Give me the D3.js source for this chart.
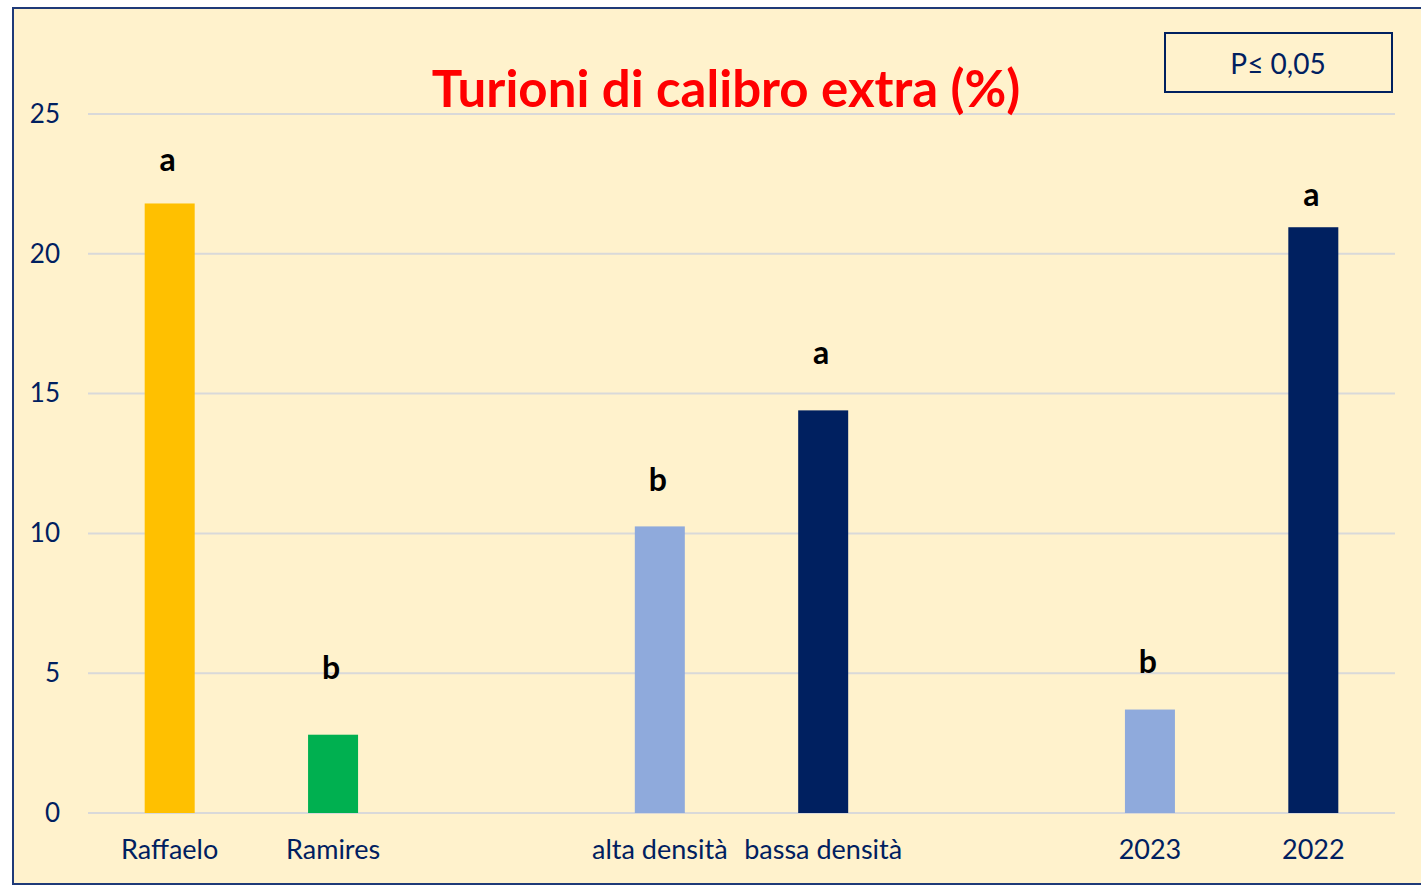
<!DOCTYPE html>
<html>
<head>
<meta charset="UTF-8">
<title>Turioni di calibro extra</title>
<style>
  body { margin: 0; background: #fff; }
  svg { display: block; font-family: Lato, "Open Sans", sans-serif; }
</style>
</head>
<body>
<svg width="1421" height="886"></svg>
<script src="https://cdn.jsdelivr.net/npm/d3@7"></script>
<script>
// data
const slots = ["Raffaelo", "Ramires", "gap1", "alta densità", "bassa densità", "gap2", "2023", "2022"];
const categories = ["Raffaelo", "Ramires", "alta densità", "bassa densità", "2023", "2022"];
const values = [21.8, 2.8, 10.25, 14.4, 3.7, 20.95];
const letters = ["a", "b", "b", "a", "b", "a"];
const letterLevel = [23.35, 5.2, 11.9, 16.45, 5.4, 22.1];
const colors = ["#FFC000", "#00B050", "#8FAADC", "#002060", "#8FAADC", "#002060"];
const yTicks = [0, 5, 10, 15, 20, 25];

const navy = "#002060";
const svg = d3.select("svg");

// frame
svg.append("rect")
    .attr("x", 13).attr("y", 8)
    .attr("width", 1420).attr("height", 876)
    .attr("fill", "#FFF2CC")
    .attr("stroke", "#1F3A78").attr("stroke-width", 2);

const plotLeft = 88, plotRight = 1395, plotTop = 114, plotBottom = 813;

const x = d3.scaleBand().domain(slots).range([plotLeft, plotRight]).paddingInner(0).paddingOuter(0);
const y = d3.scaleLinear().domain([0, 25]).range([plotBottom, plotTop]);
const barW = 50;

// gridlines
svg.append("g")
    .selectAll("line")
    .data(yTicks)
    .join("line")
    .attr("x1", plotLeft).attr("x2", plotRight)
    .attr("y1", d => y(d)).attr("y2", d => y(d))
    .attr("stroke", "#D9D9D9").attr("stroke-width", 2);

// y axis labels
const yAxis = svg.append("g")
    .attr("transform", `translate(${plotLeft},0)`)
    .call(d3.axisLeft(y).tickValues(yTicks).tickSize(0).tickPadding(28));
yAxis.select(".domain").remove();
yAxis.selectAll("text")
    .attr("fill", navy)
    .style("font-size", "26px")
    .style("font-family", "Lato, 'Open Sans', sans-serif");

// x axis labels
const xAxis = svg.append("g")
    .attr("transform", `translate(0,${plotBottom})`)
    .call(d3.axisBottom(x).tickValues(categories).tickSize(0).tickPadding(27));
xAxis.select(".domain").remove();
xAxis.selectAll("text")
    .attr("fill", navy)
    .style("font-size", "27px")
    .style("font-family", "Lato, 'Open Sans', sans-serif");

const rows = categories.map((c, i) => ({ c, v: values[i], l: letters[i], ly: letterLevel[i], col: colors[i] }));

// bars
svg.append("g")
    .selectAll("rect")
    .data(rows)
    .join("rect")
    .attr("x", d => x(d.c) + x.bandwidth() / 2 - barW / 2)
    .attr("y", d => y(d.v))
    .attr("width", barW)
    .attr("height", d => y(0) - y(d.v))
    .attr("fill", d => d.col);

// significance letters
svg.append("g")
    .selectAll("text")
    .data(rows)
    .join("text")
    .attr("x", d => x(d.c) + x.bandwidth() / 2 - 2)
    .attr("y", d => y(d.ly))
    .attr("dy", "0.35em")
    .attr("text-anchor", "middle")
    .attr("font-weight", "bold")
    .attr("font-size", 32)
    .attr("fill", "#000")
    .text(d => d.l);

// title
svg.append("text")
    .attr("x", 726).attr("y", 107)
    .attr("text-anchor", "middle")
    .attr("font-weight", "bold")
    .attr("font-size", 51)
    .attr("fill", "#FF0000")
    .text("Turioni di calibro extra (%)");

// p-value box
svg.append("rect")
    .attr("x", 1165).attr("y", 33)
    .attr("width", 227).attr("height", 59)
    .attr("fill", "none")
    .attr("stroke", navy).attr("stroke-width", 2);
svg.append("text")
    .attr("x", 1278).attr("y", 64)
    .attr("dy", "0.35em")
    .attr("text-anchor", "middle")
    .attr("font-size", 28)
    .attr("fill", navy)
    .text("P\u2264 0,05");
</script>
</body>
</html>
